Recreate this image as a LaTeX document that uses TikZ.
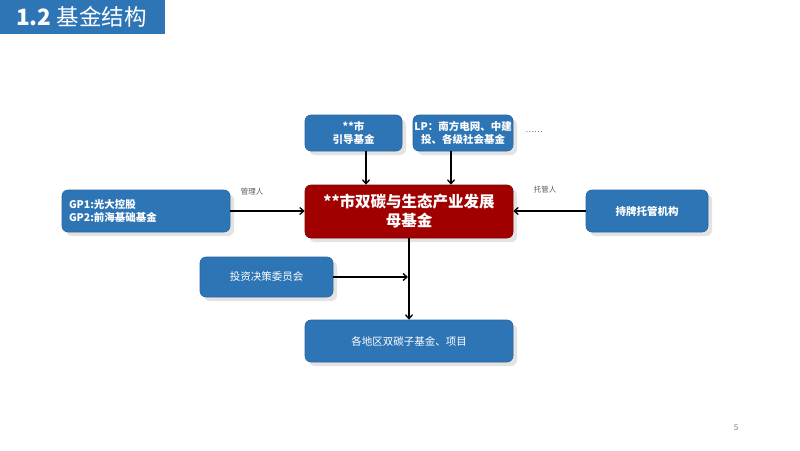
\documentclass[tikz,border=0pt]{standalone}
\usepackage{fontspec}
\setmainfont{Noto Sans CJK SC}
\usetikzlibrary{arrows.meta,shadows}
\definecolor{boxblue}{RGB}{46,117,182}
\definecolor{boxblueline}{RGB}{40,100,158}
\definecolor{boxred}{RGB}{160,0,0}
\definecolor{boxredline}{RGB}{130,0,0}
\definecolor{labgrey}{RGB}{90,90,90}
\tikzset{
  bluebox/.style={draw=boxblueline, line width=0.6pt, fill=boxblue, rounded corners=6pt,
    text=white, font=\fontsize{10.5}{13}\selectfont, align=center, inner sep=0pt,
    drop shadow={shadow xshift=4pt, shadow yshift=-4pt, opacity=0.2, fill=black!55}},
  boldbox/.style={bluebox, font=\bfseries\fontsize{10.5}{13}\selectfont},
  redbox/.style={bluebox, draw=boxredline, fill=boxred, font=\bfseries\fontsize{15.5}{19}\selectfont},
  arr/.style={line width=1.3pt, -{Straight Barb[length=4pt,width=7pt,line width=1.3pt]}},
  lab/.style={font=\fontsize{7.5}{9}\selectfont, text=labgrey}
}
\begin{document}
\begin{tikzpicture}[x=1pt,y=-1pt]
\useasboundingbox (0,0) rectangle (800,450);
\fill[white] (0,0) rectangle (800,450);
% title
\fill[boxblue] (0,0) rectangle (165,34);
\node[anchor=west, text=white, inner sep=0pt] (title) at (16,17)
  {\fontsize{22.5}{25}\selectfont\textbf{1.2} 基金结构};
% boxes
\node[boldbox, minimum width=97pt, minimum height=36pt] (guide) at (353.5,133) {**市\\引导基金};
\node[boldbox, minimum width=100pt, minimum height=36pt] (lp) at (463,133) {LP：南方电网、中建\\投、各级社会基金};
\node[lab, font=\fontsize{8}{9}\selectfont] (dots) at (534,132) {……};
\node[redbox, minimum width=208pt, minimum height=53pt] (mother) at (409,211.5) {**市双碳与生态产业发展\\母基金};
\node[boldbox, minimum width=168pt, minimum height=42pt, align=left, text width=154pt] (gp) at (146,211) {GP1:光大控股\\GP2:前海基础基金};
\node[boldbox, minimum width=122pt, minimum height=42pt] (cust) at (647,211) {持牌托管机构};
\node[bluebox, minimum width=133pt, minimum height=40pt] (ic) at (266.5,277) {投资决策委员会};
\node[bluebox, minimum width=208pt, minimum height=42pt] (sub) at (409,341) {各地区双碳子基金、项目};
% labels
\node[lab] (mgr) at (252,192) {管理人};
\node[lab] (cus) at (545,190) {托管人};
\node[lab, font=\fontsize{8}{9}\selectfont, text=gray] (page) at (736,428) {5};
% connectors
\coordinate (g1) at (366,151);
\coordinate (l1) at (451,151);
\draw[arr] (g1) -- (g1 |- mother.north);
\draw[arr] (l1) -- (l1 |- mother.north);
\draw[arr] (gp.east) -- (gp.east -| mother.west);
\draw[arr] (cust.west) -- (cust.west -| mother.east);
\draw[arr] (mother.south) -- (sub.north);
\coordinate (icend) at (408,277);
\draw[arr] (ic.east) -- (icend);
\end{tikzpicture}
\end{document}
